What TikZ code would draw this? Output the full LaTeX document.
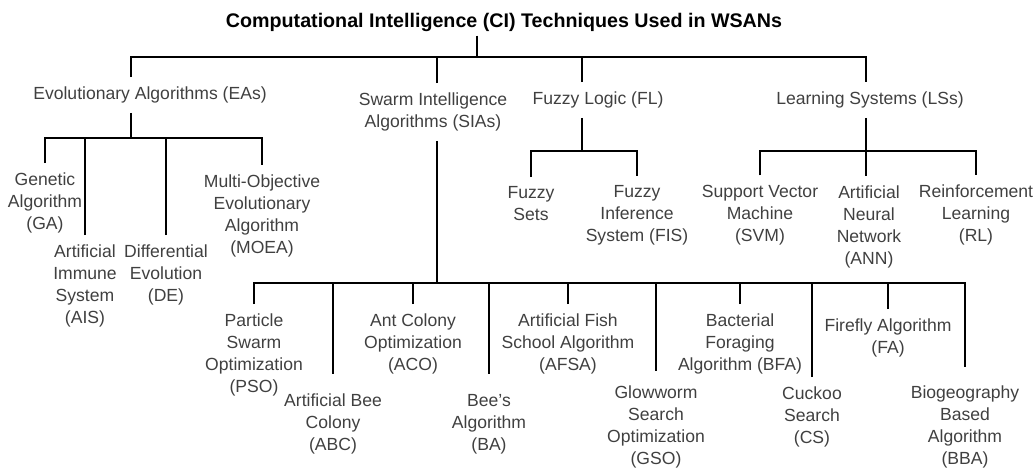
\documentclass[tikz,border=0pt]{standalone}
\usepackage{fontspec}
\setmainfont{Liberation Sans}
\usepackage{tikz}

\begin{document}
\begin{tikzpicture}[x=0.02cm,y=-0.02cm,line width=1pt,
	main node/.style={align=center,inner sep=5pt,text=black!75,font=\fontsize{10}{12.5}\selectfont},
	top node/.style={inner sep=2pt,font=\fontsize{11.2}{13}\selectfont\bfseries}]
	
	\useasboundingbox (0,0) rectangle (1035,469);
	
	\node[top node] (ci) at (504,22) {Computational Intelligence (CI) Techniques Used in WSANs};
	
	% first level
	\node[main node] (ea) at (150,95) {Evolutionary Algorithms (EAs)};
	\node[main node] (sia) at (433,112) {Swarm Intelligence\\Algorithms (SIAs)};
	\node[main node] (fl) at (598,100) {Fuzzy Logic (FL)};
	\node[main node] (ls) at (870,100) {Learning Systems (LSs)};
	
	% evolutionary algorithms
	\node[main node] (ga) at (45,203) {Genetic\\Algorithm\\(GA)};
	\node[main node] (ais) at (85,286) {Artificial\\Immune\\System\\(AIS)};
	\node[main node] (de) at (166,275) {Differential\\Evolution\\(DE)};
	\node[main node] (moea) at (262,216) {Multi-Objective\\Evolutionary\\Algorithm\\(MOEA)};
	
	% fuzzy logic and learning systems
	\node[main node] (fs) at (531,204) {Fuzzy\\Sets};
	\node[main node] (fis) at (637,215) {Fuzzy\\Inference\\System (FIS)};
	\node[main node] (svm) at (760,215) {Support Vector\\Machine\\(SVM)};
	\node[main node] (ann) at (869,227) {Artificial\\Neural\\Network\\(ANN)};
	\node[main node] (rl) at (976,215) {Reinforcement\\Learning\\(RL)};
	
	% swarm intelligence
	\node[main node] (pso) at (254,355) {Particle\\Swarm\\Optimization\\(PSO)};
	\node[main node] (abc) at (333,424) {Artificial Bee\\Colony\\(ABC)};
	\node[main node] (aco) at (413,344) {Ant Colony\\Optimization\\(ACO)};
	\node[main node] (ba) at (489,424) {Bee’s\\Algorithm\\(BA)};
	\node[main node] (afsa) at (568,344) {Artificial Fish\\School Algorithm\\(AFSA)};
	\node[main node] (gso) at (656,427) {Glowworm\\Search\\Optimization\\(GSO)};
	\node[main node] (bfa) at (740,344) {Bacterial\\Foraging\\Algorithm (BFA)};
	\node[main node] (cs) at (812,417) {Cuckoo\\Search\\(CS)};
	\node[main node] (fa) at (888,338) {Firefly Algorithm\\(FA)};
	\node[main node] (bba) at (965,427) {Biogeography\\Based\\Algorithm\\(BBA)};
	
	\coordinate (ci-fork) at (477,57);
	\coordinate (ea-fork) at (131,138);
	\coordinate (sia-fork) at (437,283);
	\coordinate (fl-fork) at (582,151);
	\coordinate (ls-fork) at (866,151);
	
	\draw (ci.south -| ci-fork) -- (ci-fork);
	\draw (ea.north -| ea-fork) |- (ci-fork) -| (ls.north -| ls-fork);
	\draw (sia.north -| sia-fork) -- (sia-fork |- ci-fork);
	\draw (fl.north -| fl-fork) -- (fl-fork |- ci-fork);
	
	\draw (ea.south -| ea-fork) -- (ea-fork);
	\draw (ga) |- (ea-fork) -| (moea);
	\foreach \n in {ais,de}
		\draw (\n) -- (\n |- ea-fork);
	
	\draw (fl.south -| fl-fork) -- (fl-fork);
	\draw (fs) |- (fl-fork) -| (fis);
	
	\draw (ls.south -| ls-fork) -- (ann.north -| ls-fork);
	\draw (svm) |- (ls-fork) -| (rl);
	
	\draw (sia.south -| sia-fork) -- (sia-fork);
	\draw[shorten >=5pt] (sia-fork) -| (bba);
	\draw (pso) |- (sia-fork);
	\foreach \n in {aco,afsa,bfa,cs,fa}
		\draw (\n) -- (\n |- sia-fork);
	\foreach \n/\gap in {abc/6pt,ba/6pt,gso/3pt}
		\draw[shorten <=\gap] (\n) -- (\n |- sia-fork);
\end{tikzpicture}
\end{document}
